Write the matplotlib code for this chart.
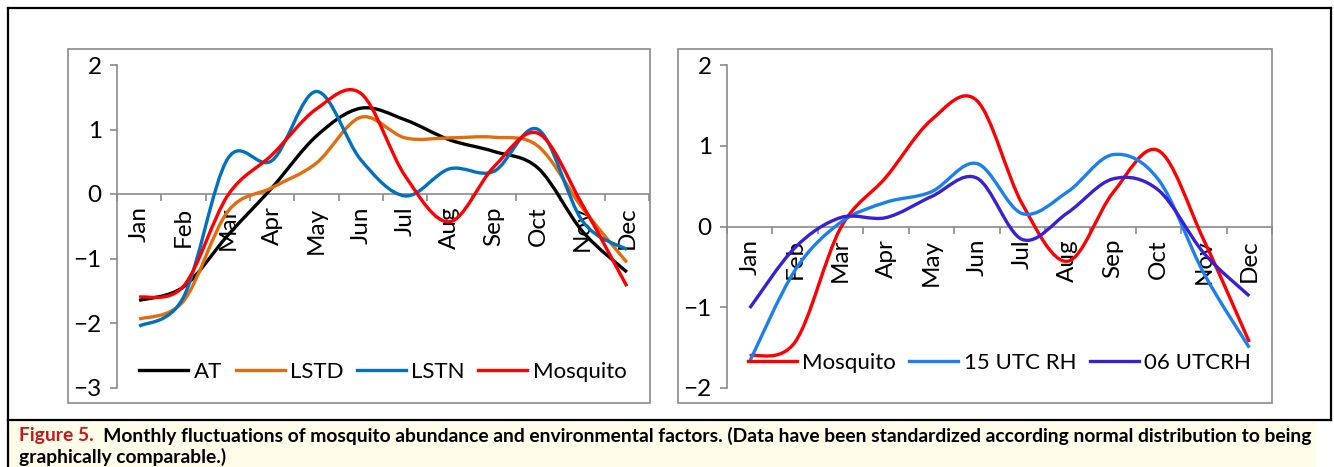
import numpy as np
import matplotlib
matplotlib.use("Agg")
import matplotlib.pyplot as plt
from matplotlib.path import Path
from matplotlib.patches import PathPatch, Rectangle
from matplotlib.lines import Line2D

plt.rcParams['font.family'] = ['Lato', 'DejaVu Sans']

months = ['Jan', 'Feb', 'Mar', 'Apr', 'May', 'Jun', 'Jul', 'Aug', 'Sep', 'Oct', 'Nov', 'Dec']

# standardized values
at = [-1.65, -1.44, -0.64, 0.10, 0.90, 1.33, 1.15, 0.84, 0.66, 0.40, -0.58, -1.21]
lstd = [-1.94, -1.66, -0.27, 0.10, 0.48, 1.19, 0.87, 0.87, 0.88, 0.74, -0.22, -1.06]
lstn = [-2.05, -1.60, 0.55, 0.52, 1.59, 0.53, -0.03, 0.39, 0.35, 1.00, -0.42, -0.86]
mosquito = [-1.60, -1.43, -0.02, 0.61, 1.32, 1.56, 0.28, -0.43, 0.42, 0.94, -0.17, -1.43]
rh15 = [-1.67, -0.54, 0.05, 0.30, 0.43, 0.78, 0.16, 0.43, 0.89, 0.58, -0.58, -1.50]
rh06 = [-1.01, -0.26, 0.11, 0.11, 0.37, 0.60, -0.16, 0.17, 0.59, 0.45, -0.33, -0.86]

GRAY = '#8a8a8a'


def smooth_path(ys):
    # Excel-style smoothed line: Catmull-Rom segments as cubic Bezier
    pts = np.column_stack([np.arange(len(ys)), ys]).astype(float)
    n = len(pts)
    verts = [pts[0]]
    codes = [Path.MOVETO]
    for i in range(n - 1):
        p0 = pts[max(i - 1, 0)]
        p1 = pts[i]
        p2 = pts[i + 1]
        p3 = pts[min(i + 2, n - 1)]
        verts += [p1 + (p2 - p0) / 6, p2 - (p3 - p1) / 6, p2]
        codes += [Path.CURVE4] * 3
    return Path(verts, codes)


def draw_panel(ax, series, ylim, legend_y):
    handles = []
    for name, ys, color in series:
        ax.add_patch(PathPatch(smooth_path(ys), fill=False, edgecolor=color,
                               lw=2.4, joinstyle='round', capstyle='butt', zorder=3))
        handles.append(Line2D([], [], color=color, lw=2.4, label=name))
    for s in ['top', 'right']:
        ax.spines[s].set_visible(False)
    ax.spines['bottom'].set_position(('data', 0))
    for s in ['left', 'bottom']:
        ax.spines[s].set_color(GRAY)
        ax.spines[s].set_linewidth(1.2)
    ax.set_xlim(-0.5, 11.5)
    ax.set_ylim(*ylim)
    ax.set_yticks(range(ylim[0], ylim[1] + 1))
    ax.set_xticks(range(12))
    ax.set_xticklabels(months)
    ax.set_xticks(np.arange(-0.5, 12, 1), minor=True)
    ax.tick_params(axis='x', which='major', length=0, pad=9, labelsize=17.5, labelrotation=90)
    ax.tick_params(axis='x', which='minor', length=5, width=1.2, color=GRAY, direction='out')
    ax.tick_params(axis='y', length=5, width=1.2, color=GRAY, direction='out',
                   pad=6, labelsize=17.5)
    ax.set_facecolor('none')
    ax.legend(handles=handles, loc='center', bbox_to_anchor=(0.5, legend_y), ncol=len(series),
              frameon=False, fontsize=16, handlelength=2.2, handletextpad=0.25,
              columnspacing=0.6, borderaxespad=0, borderpad=0)


fig = plt.figure(figsize=(13.34, 4.67), dpi=100)

# page-like background drawn in pixel coordinates
bg = fig.add_axes([0, 0, 1, 1], zorder=-1)
bg.set_xlim(0, 1334)
bg.set_ylim(467, 0)
bg.axis('off')
bg.add_patch(Rectangle((8, 421), 1308, 46, facecolor='#fffde9', edgecolor='none'))
bg.plot([8, 8], [8, 467], color='black', lw=1.6)
bg.plot([8, 1331], [8, 8], color='black', lw=1.6)
bg.plot([1331, 1331], [8, 420], color='black', lw=1.6)
bg.plot([8, 1331], [420, 420], color='black', lw=1.6)
bg.add_patch(Rectangle((68, 49), 582, 354, facecolor='none', edgecolor=GRAY, lw=1.2))
bg.add_patch(Rectangle((678, 49), 594, 354, facecolor='none', edgecolor=GRAY, lw=1.2))

ax1 = fig.add_axes([117 / 1334, 79.5 / 467, 532 / 1334, 322.5 / 467])
draw_panel(ax1, [('AT', at, 'black'), ('LSTD', lstd, '#e46c0a'),
                 ('LSTN', lstn, '#0070c0'), ('Mosquito', mosquito, '#ff0000')],
           (-3, 2), 0.048)

ax2 = fig.add_axes([727 / 1334, 79 / 467, 545 / 1334, 323 / 467])
draw_panel(ax2, [('Mosquito', mosquito, '#ff0000'), ('15 UTC RH', rh15, '#1a7ff0'),
                 ('06 UTCRH', rh06, '#3a1fd8')],
           (-2, 2), 0.077)

# caption, first line justified to the box width
t_red = bg.text(19, 441.5, 'Figure 5.', color='#c8161d', fontweight='bold',
                fontsize=11, va='baseline', ha='left')
t_rest = bg.text(19, 441.5, '  Monthly fluctuations of mosquito abundance and environmental '
                 'factors. (Data have been standardized according normal distribution to being',
                 color='black', fontweight='bold', fontsize=11, va='baseline', ha='left')
r = fig.canvas.get_renderer()
w_total = t_red.get_window_extent(r).width + t_rest.get_window_extent(r).width
size = 11 * 1295 / w_total
t_red.set_fontsize(size)
t_rest.set_fontsize(size)
t_rest.set_x(19 + t_red.get_window_extent(r).width)
bg.text(19, 462.5, 'graphically comparable.)', color='black', fontweight='bold',
        fontsize=size, va='baseline', ha='left')

fig.savefig('out.png', dpi=100)
